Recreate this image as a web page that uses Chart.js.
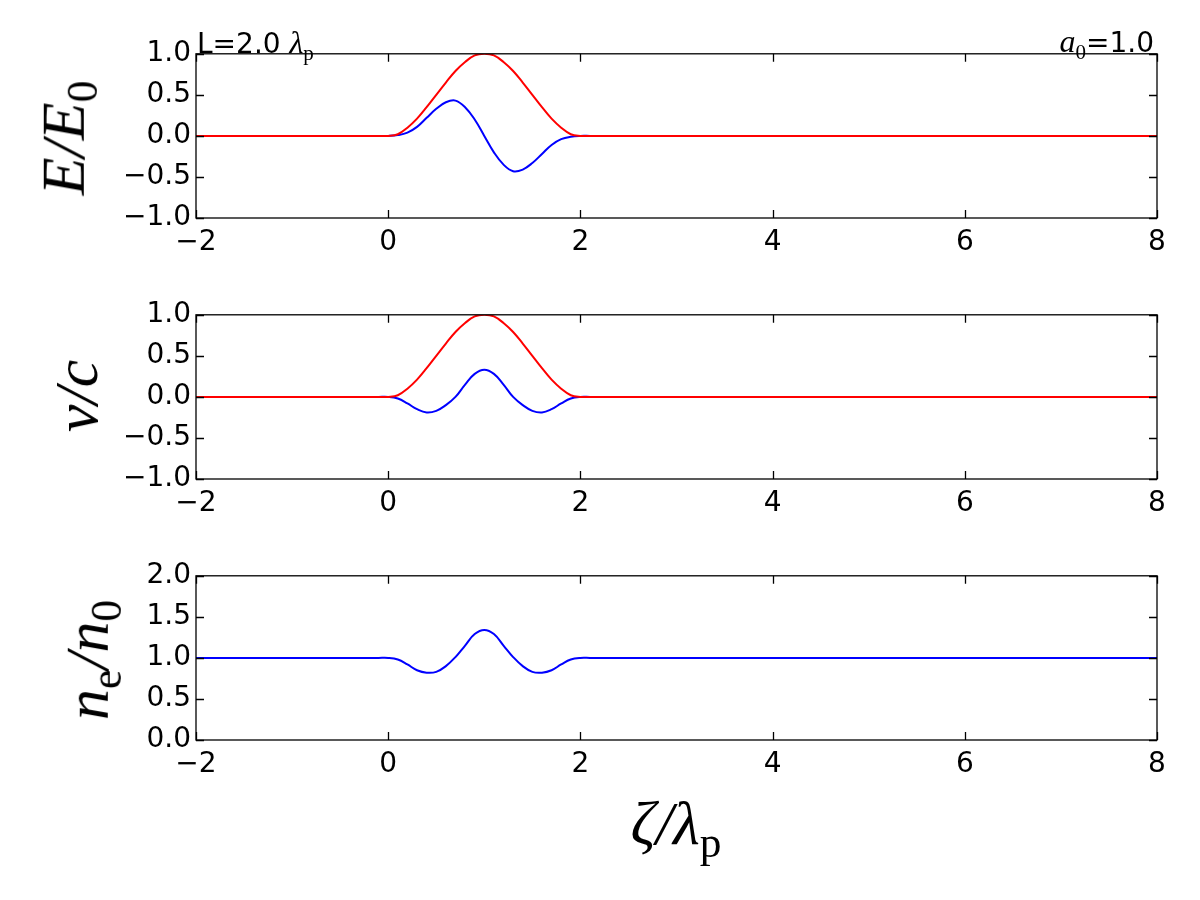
<!DOCTYPE html>
<html>
<head>
<meta charset="utf-8">
<script src="https://cdn.jsdelivr.net/npm/chart.js@4.4.0/dist/chart.umd.min.js"></script>
<style>
  body { margin: 0; background: #fff; width: 1200px; height: 900px; position: relative; overflow: hidden; }
  .panel { position: absolute; left: 0; width: 1200px; height: 246px; }
  .math { position: absolute; font-family: 'Liberation Serif', 'DejaVu Serif', serif; font-style: italic; color: #000; white-space: nowrap; line-height: 1; }
  .math sub { font-style: normal; font-size: 0.7em; vertical-align: -0.3em; }
  .rot { transform: translate(-50%, -50%) rotate(-90deg); }
  .note { position: absolute; font-family: 'DejaVu Sans', sans-serif; font-size: 28px; color: #000; white-space: nowrap; line-height: 1; }
  .note i { font-family: 'Liberation Serif', serif; font-size: 32px; }
  .note sub { font-family: 'Liberation Serif', serif; font-style: normal; font-size: 21px; vertical-align: -0.35em; }
</style>
</head>
<body>
<div class="panel" style="top:32px"><canvas id="cE" width="1200" height="246"></canvas></div>
<div class="panel" style="top:293px"><canvas id="cV" width="1200" height="246"></canvas></div>
<div class="panel" style="top:554px"><canvas id="cN" width="1200" height="246"></canvas></div>

<div class="math rot" style="left:68px; top:138px; font-size:62px;">E/E<sub>0</sub></div>
<div class="math rot" style="left:76px; top:396px; font-size:62px;">v/c</div>
<div class="math rot" style="left:92px; top:660px; font-size:62px;">n<sub>e</sub>/n<sub>0</sub></div>
<div class="math" style="left:676px; top:828px; font-size:62px; transform: translate(-50%, -50%);">ζ/λ<sub>p</sub></div>

<div class="note" style="left:197px; top:26px;">L=2.0 <i>λ</i><sub>p</sub></div>
<div class="note" style="right:46px; top:25px;"><i>a</i><sub>0</sub>=1.0</div>

<script>
// positions along the pulse, in units of lambda_p
const zeta = [-2, -0.1, 0, 0.1, 0.2, 0.3, 0.4, 0.5, 0.6, 0.7, 0.8, 0.9, 1.0,
              1.1, 1.2, 1.3, 1.4, 1.5, 1.6, 1.7, 1.8, 1.9, 2.0, 2.1, 8];

// top panel: field envelope (red) and field (blue)
const eEnvelope = [0, 0, 0, 0.02, 0.10, 0.21, 0.35, 0.50, 0.65, 0.79, 0.90, 0.98, 1.00,
                   0.98, 0.90, 0.79, 0.65, 0.50, 0.35, 0.21, 0.10, 0.02, 0, 0, 0];
const eField = [0, 0, 0, 0.01, 0.04, 0.11, 0.22, 0.33, 0.41, 0.43, 0.35, 0.20, 0,
                -0.20, -0.35, -0.43, -0.41, -0.33, -0.22, -0.11, -0.04, -0.01, 0, 0, 0];

// middle panel: velocity envelope (red) and velocity (blue)
const vEnvelope = [0, 0, 0, 0.02, 0.10, 0.21, 0.35, 0.50, 0.65, 0.79, 0.90, 0.98, 1.00,
                   0.98, 0.90, 0.79, 0.65, 0.50, 0.35, 0.21, 0.10, 0.02, 0, 0, 0];
const vLong = [0, 0, 0, -0.02, -0.08, -0.15, -0.19, -0.17, -0.10, 0.00, 0.15, 0.28, 0.33,
               0.28, 0.15, 0.00, -0.10, -0.17, -0.19, -0.15, -0.08, -0.02, 0, 0, 0];

// bottom panel: electron density
const density = [1, 1, 1, 0.98, 0.92, 0.85, 0.82, 0.83, 0.90, 1.01, 1.15, 1.29, 1.34,
                 1.29, 1.15, 1.01, 0.90, 0.83, 0.82, 0.85, 0.92, 0.98, 1, 1, 1];

const xTicks = [-2, 0, 2, 4, 6, 8];
const yTicksField = [-1, -0.5, 0, 0.5, 1];
const yTicksDensity = [0, 0.5, 1, 1.5, 2];

Chart.defaults.font.family = "'DejaVu Sans', sans-serif";
Chart.defaults.color = '#000';

const minus = s => s.replace('-', '\u2212');

// frame + inward ticks on all four sides, like the matplotlib classic style
const frameTicks = {
    id: 'frameTicks',
    afterDatasetsDraw(chart) {
        const { ctx, chartArea: { left, right, top, bottom }, scales: { x, y } } = chart;
        const len = 8;
        ctx.save();
        ctx.strokeStyle = '#000';
        ctx.lineWidth = 1.3;
        ctx.beginPath();
        x.ticks.forEach(t => {
            const px = Math.round(x.getPixelForValue(t.value)) + 0.5;
            ctx.moveTo(px, bottom); ctx.lineTo(px, bottom - len);
            ctx.moveTo(px, top); ctx.lineTo(px, top + len);
        });
        y.ticks.forEach(t => {
            const py = Math.round(y.getPixelForValue(t.value)) + 0.5;
            ctx.moveTo(left, py); ctx.lineTo(left + len, py);
            ctx.moveTo(right, py); ctx.lineTo(right - len, py);
        });
        ctx.stroke();
        ctx.strokeRect(left, top, right - left, bottom - top);
        ctx.restore();
    }
};

function pts(vals) {
    return zeta.map((z, i) => ({ x: z, y: vals[i] }));
}

function makePanel(id, series, yMin, yMax, yTicks) {
    const datasets = series.map(s => ({
        data: pts(s.values),
        borderColor: s.color,
        borderWidth: 2,
        pointRadius: 0,
        tension: 0.4,
        fill: false
    }));
    new Chart(document.getElementById(id), {
        type: 'line',
        data: { datasets },
        options: {
            responsive: false,
            animation: false,
            devicePixelRatio: 1,
            layout: { padding: { left: 0, right: 43, top: 20, bottom: 0 } },
            plugins: { legend: { display: false }, tooltip: { enabled: false } },
            scales: {
                x: {
                    type: 'linear', min: -2, max: 8,
                    afterBuildTicks: s => { s.ticks = xTicks.map(v => ({ value: v })); },
                    afterFit: s => { s.height = 60; },
                    grid: { display: false, drawTicks: false },
                    border: { display: false },
                    ticks: { font: { size: 28 }, padding: 8, maxRotation: 0, callback: v => minus(String(v)) }
                },
                y: {
                    min: yMin, max: yMax,
                    afterBuildTicks: s => { s.ticks = yTicks.map(v => ({ value: v })); },
                    afterFit: s => { s.width = 196; },
                    grid: { display: false, drawTicks: false },
                    border: { display: false },
                    ticks: { font: { size: 28 }, padding: 5, callback: v => minus(Number(v).toFixed(1)) }
                }
            }
        },
        plugins: [frameTicks]
    });
}

makePanel('cE', [{ values: eEnvelope, color: '#ff0000' }, { values: eField, color: '#0000ff' }], -1, 1, yTicksField);
makePanel('cV', [{ values: vEnvelope, color: '#ff0000' }, { values: vLong, color: '#0000ff' }], -1, 1, yTicksField);
makePanel('cN', [{ values: density, color: '#0000ff' }], 0, 2, yTicksDensity);
</script>
</body>
</html>
